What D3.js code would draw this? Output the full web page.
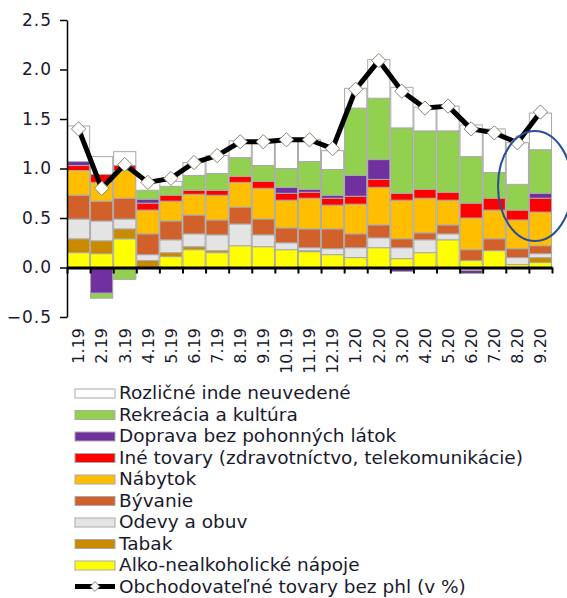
<!DOCTYPE html>
<html lang="sk">
<head>
  <meta charset="UTF-8">
  <script src="https://cdn.jsdelivr.net/npm/d3@7"></script>
  <title>Obchodovateľné tovary</title>
  <style>
    body { margin: 0; background: #fff; }
    text { font-family: "DejaVu Sans", Verdana, sans-serif; fill: #1a1a2e; }
  </style>
</head>
<body>
  <svg></svg>
</body>
<script>
const width = 567;
const height = 598;

const categories = ["1.19","2.19","3.19","4.19","5.19","6.19","7.19","8.19","9.19","10.19","11.19","12.19",
  "1.20","2.20","3.20","4.20","5.20","6.20","7.20","8.20","9.20"];

// príspevky zložiek, zdola nahor
const alko      = [0.15,0.14,0.29,0.00,0.11,0.18,0.15,0.22,0.21,0.18,0.16,0.13,0.10,0.20,0.09,0.15,0.28,0.07,0.17,0.03,0.05];
const tabak     = [0.14,0.13,0.10,0.07,0.04,0.03,0.02,0.00,0.00,0.00,0.01,0.00,0.00,0.00,0.00,0.00,0.00,0.00,0.00,0.00,0.05];
const odevy     = [0.20,0.20,0.10,0.06,0.13,0.13,0.16,0.22,0.12,0.07,0.03,0.06,0.10,0.10,0.11,0.13,0.06,-0.03,0.00,0.07,0.04];
const byvanie   = [0.24,0.20,0.21,0.21,0.19,0.19,0.15,0.17,0.16,0.15,0.19,0.20,0.14,0.13,0.09,0.07,0.09,0.11,0.12,0.09,0.08];
const nabytok   = [0.25,0.19,0.28,0.24,0.20,0.21,0.25,0.25,0.31,0.28,0.31,0.24,0.30,0.38,0.39,0.35,0.25,0.32,0.29,0.29,0.34];
const ine       = [0.05,0.08,0.05,0.07,0.06,0.04,0.05,0.06,0.07,0.07,0.06,0.07,0.08,0.08,0.07,0.09,0.08,0.15,0.12,0.10,0.14];
const doprava   = [0.04,-0.26,-0.02,0.04,0.00,0.00,0.00,0.00,0.00,0.06,0.03,0.03,0.21,0.20,-0.04,-0.02,0.00,-0.03,0.00,0.00,0.05];
const rekreacia = [0.00,-0.05,-0.10,0.09,0.09,0.15,0.17,0.19,0.16,0.19,0.28,0.26,0.68,0.62,0.66,0.59,0.62,0.47,0.26,0.26,0.44];
const rozlicne  = [0.36,0.18,0.14,0.00,0.05,0.13,0.18,0.17,0.24,0.28,0.22,0.19,0.20,0.39,0.41,0.24,0.25,0.32,0.44,0.42,0.37];
const total     = [1.40,0.80,1.04,0.86,0.90,1.06,1.13,1.27,1.27,1.29,1.29,1.20,1.80,2.09,1.78,1.61,1.63,1.40,1.36,1.26,1.57];

const yTicks = [-0.5, 0, 0.5, 1.0, 1.5, 2.0, 2.5];

const seriesDefs = [
  { key: "alko",      name: "Alko-nealkoholické nápoje", values: alko,      fill: "#ffff00" },
  { key: "tabak",     name: "Tabak",                     values: tabak,     fill: "#c98a00" },
  { key: "odevy",     name: "Odevy a obuv",              values: odevy,     fill: "#e4e4e4" },
  { key: "byvanie",   name: "Bývanie",                   values: byvanie,   fill: "#d2602a" },
  { key: "nabytok",   name: "Nábytok",                   values: nabytok,   fill: "#ffbf00" },
  { key: "ine",       name: "Iné tovary (zdravotníctvo, telekomunikácie)", values: ine, fill: "#ff0000" },
  { key: "doprava",   name: "Doprava bez pohonných látok", values: doprava, fill: "#7030a0" },
  { key: "rekreacia", name: "Rekreácia a kultúra",       values: rekreacia, fill: "#92d050" },
  { key: "rozlicne",  name: "Rozličné inde neuvedené",   values: rozlicne,  fill: "#ffffff" }
];
const lineName = "Obchodovateľné tovary bez phl (v %)";

const plot = { left: 67, right: 552, top: 20, bottom: 317 };

const svg = d3.select('svg').attr('width', width).attr('height', height);
const barsLayer = svg.append('g');
const axisLayer = svg.append('g');
const lineLayer = svg.append('g');
const legendLayer = svg.append('g');

const rows = categories.map((c, i) => {
  const row = { cat: c };
  seriesDefs.forEach(s => { row[s.key] = s.values[i]; });
  return row;
});

const stacked = d3.stack()
  .keys(seriesDefs.map(s => s.key))
  .offset(d3.stackOffsetDiverging)(rows);

const xScale = d3.scaleBand().domain(categories).range([plot.left, plot.right]).paddingInner(0.04).paddingOuter(0.02);
const xEdge = d3.scaleLinear().domain([0, categories.length]).range([plot.left, plot.right]);
const yScale = d3.scaleLinear().domain([-0.5, 2.5]).range([plot.bottom, plot.top]);

// stĺpce
barsLayer.selectAll('g')
  .data(stacked)
  .join('g')
  .attr('fill', (d, i) => seriesDefs[i].fill)
  .selectAll('rect')
  .data(d => d.filter(p => Math.abs(p[1] - p[0]) > 1e-9))
  .join('rect')
  .attr('x', p => xScale(p.data.cat))
  .attr('width', xScale.bandwidth())
  .attr('y', p => yScale(Math.max(p[0], p[1])))
  .attr('height', p => Math.abs(yScale(p[0]) - yScale(p[1])))
  .attr('stroke', '#a9a9a9')
  .attr('stroke-width', 1);

// os y
const yAxis = d3.axisLeft(yScale).tickValues(yTicks).tickFormat(d3.format('.1f')).tickSize(7).tickSizeOuter(0).tickPadding(8);
const yG = axisLayer.append('g').attr('transform', `translate(${plot.left},0)`).call(yAxis);
yG.selectAll('text').style('font-size', '17px').attr('letter-spacing', '1px').attr('fill', '#1a1a2e');
yG.selectAll('line, path').attr('stroke', '#000').attr('stroke-width', 1.5);

// os x na nule
const xAxis = d3.axisBottom(xEdge).tickValues(d3.range(0, categories.length + 1)).tickFormat('').tickSize(6).tickSizeOuter(0);
const xG = axisLayer.append('g').attr('transform', `translate(0,${yScale(0)})`).call(xAxis);
xG.select('path').attr('stroke', '#000').attr('stroke-width', 3);
xG.selectAll('line').attr('stroke', '#000').attr('stroke-width', 2);

axisLayer.selectAll('.xlabel')
  .data(categories)
  .join('text')
  .attr('class', 'xlabel')
  .attr('transform', c => `translate(${xScale(c) + xScale.bandwidth() / 2},328) rotate(-90)`)
  .attr('text-anchor', 'end')
  .attr('dy', '0.36em')
  .style('font-size', '16px')
  .text(c => c);

// čiara
const line = d3.line().x((d, i) => xScale(categories[i]) + xScale.bandwidth() / 2).y(d => yScale(d));
lineLayer.append('path')
  .datum(total)
  .attr('d', line)
  .attr('fill', 'none')
  .attr('stroke', '#000')
  .attr('stroke-width', 5)
  .attr('stroke-linejoin', 'round');

const diamond = d3.symbol().type(d3.symbolDiamond2).size(130);
lineLayer.selectAll('.marker')
  .data(total)
  .join('path')
  .attr('class', 'marker')
  .attr('d', diamond)
  .attr('transform', (d, i) => `translate(${xScale(categories[i]) + xScale.bandwidth() / 2},${yScale(d)})`)
  .attr('fill', '#fff')
  .attr('stroke', '#8b8070')
  .attr('stroke-width', 1);

// zvýraznenie posledného mesiaca
lineLayer.append('ellipse')
  .attr('cx', 535).attr('cy', 186).attr('rx', 37).attr('ry', 55)
  .attr('fill', 'none').attr('stroke', '#2a4f96').attr('stroke-width', 2);

// legenda
const legendItems = seriesDefs.slice().reverse();
const legendTop = 399;
const legendStep = 21.5;
legendItems.forEach((s, i) => {
  const y = legendTop + i * legendStep;
  legendLayer.append('rect')
    .attr('x', 75).attr('y', y - 10).attr('width', 40).attr('height', 9)
    .attr('fill', s.fill).attr('stroke', '#a9a9a9').attr('stroke-width', 1);
  legendLayer.append('text').attr('x', 119).attr('y', y).style('font-size', '18.5px').text(s.name);
});
const ly = legendTop + legendItems.length * legendStep;
legendLayer.append('line')
  .attr('x1', 75).attr('x2', 115).attr('y1', ly - 6).attr('y2', ly - 6)
  .attr('stroke', '#000').attr('stroke-width', 5);
legendLayer.append('path')
  .attr('d', d3.symbol().type(d3.symbolDiamond2).size(60))
  .attr('transform', `translate(95,${ly - 6})`)
  .attr('fill', '#fff').attr('stroke', '#8b8070');
legendLayer.append('text').attr('x', 119).attr('y', ly).style('font-size', '18.5px').text(lineName);
</script>
</html>
